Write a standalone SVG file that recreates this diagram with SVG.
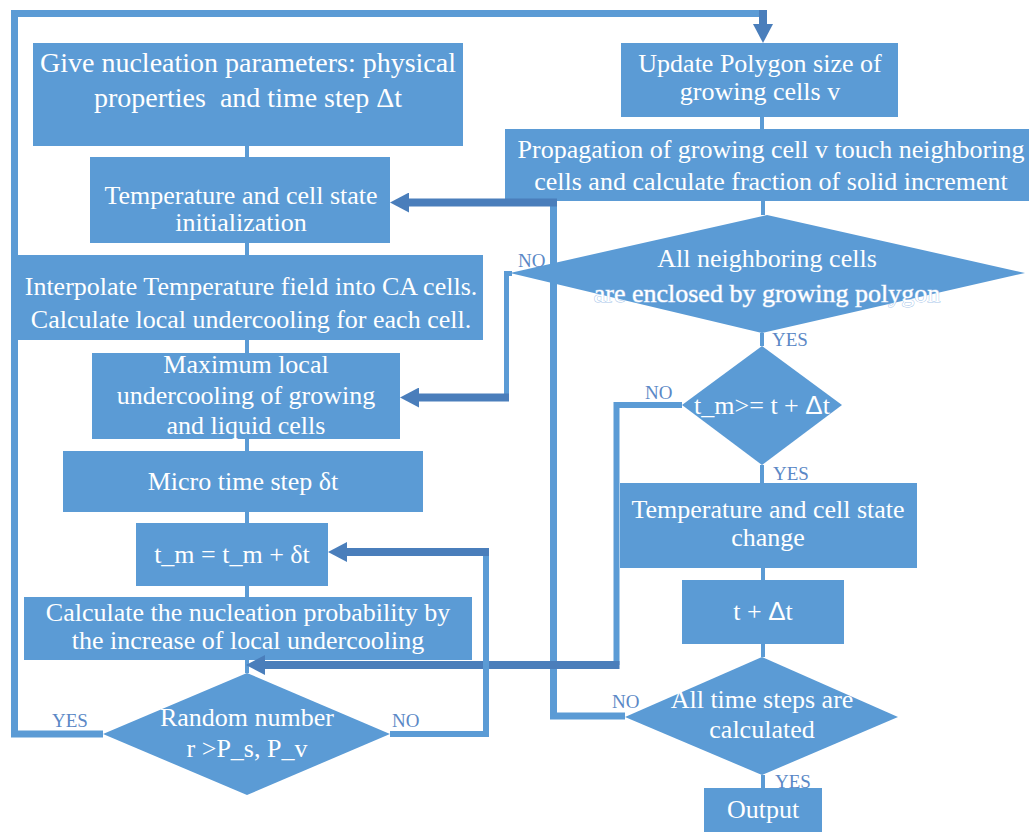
<svg xmlns="http://www.w3.org/2000/svg" width="1029" height="832" viewBox="0 0 1029 832">
<style>
.box{fill:#5b9bd5;}
.t{font-family:"Liberation Serif","Times New Roman",serif;font-size:26px;fill:#ffffff;text-anchor:middle;}
.halo{stroke:#a9c7ea;stroke-width:1px;paint-order:stroke;}
.lbl{font-family:"Liberation Serif","Times New Roman",serif;font-size:19px;fill:#5b88c6;}
.thin{fill:none;stroke:#5b9bd5;stroke-width:4;}
.loop{fill:none;stroke:#5b9bd5;stroke-width:7;stroke-linejoin:miter;}
.arr{fill:none;stroke:#4a7ebb;stroke-width:8;}
.sans{font-family:"Liberation Sans",Arial,sans-serif;}
</style>
<defs>
<marker id="ah" markerUnits="userSpaceOnUse" markerWidth="19" markerHeight="20" refX="0" refY="10" orient="auto" viewBox="0 0 19 20">
<path d="M0,0 L19,10 L0,20 z" fill="#4a7ebb"/>
</marker>
</defs>
<rect width="1029" height="832" fill="#ffffff"/>

<g id="n1"><rect class="box" x="33" y="43" width="430" height="103"/>
<text class="t" style="font-size:28px" x="248" y="72">Give nucleation parameters: physical</text>
<text class="t" style="font-size:28px" x="248" y="107">properties&#160; and time step Δt</text></g>

<g id="n2"><rect class="box" x="90" y="157" width="300" height="86"/>
<text class="t" x="241" y="204">Temperature and cell state</text>
<text class="t" x="241" y="231">initialization</text></g>

<g id="n3"><rect class="box" x="17" y="255" width="466" height="85"/>
<text class="t" x="251" y="295">Interpolate Temperature field into CA cells.</text>
<text class="t" x="251" y="328">Calculate local undercooling for each cell.</text></g>

<g id="n4"><rect class="box" x="92" y="353" width="308" height="86"/>
<text class="t" x="246" y="373">Maximum local</text>
<text class="t" x="246" y="404">undercooling of growing</text>
<text class="t" x="246" y="434">and liquid cells</text></g>

<g id="n5"><rect class="box" x="63" y="451" width="360" height="61"/>
<text class="t" x="243" y="490">Micro time step δt</text></g>

<g id="n6"><rect class="box" x="136" y="523" width="192" height="63"/>
<text class="t" x="232" y="563">t_m = t_m + δt</text></g>

<g id="n7"><rect class="box" x="24" y="597" width="448" height="63"/>
<text class="t" x="248" y="621">Calculate the nucleation probability by</text>
<text class="t" x="248" y="649">the increase of local undercooling</text></g>

<g id="n8"><polygon class="box" points="247,673 390,734 247,795 103,734"/>
<text class="t" x="247" y="726">Random number</text>
<text class="t" x="247" y="757">r &gt;P_s, P_v</text></g>

<g id="r1"><rect class="box" x="621" y="43" width="277" height="74"/>
<text class="t" x="760" y="72">Update Polygon size of</text>
<text class="t" x="760" y="100">growing cells v</text></g>

<g id="r2"><rect class="box" x="505" y="129" width="530" height="72"/>
<text class="t" x="771" y="158">Propagation of growing cell v touch neighboring</text>
<text class="t" x="771" y="190">cells and calculate fraction of solid increment</text></g>

<g id="r3"><polygon class="box" points="767,215 1025,273 762,333 510,273"/>
<text class="t" x="767" y="267">All neighboring cells</text>
<text class="t halo" x="767" y="302">are enclosed by growing polygon</text></g>

<g id="r4"><polygon class="box" points="762,346 842,405 762,465 682,405"/>
<text class="t" x="762" y="414">t_m&gt;= t + <tspan class="sans">Δ</tspan>t</text></g>

<g id="r5"><rect class="box" x="620" y="483" width="297" height="85"/>
<text class="t" x="768" y="518">Temperature and cell state</text>
<text class="t" x="768" y="546">change</text></g>

<g id="r6"><rect class="box" x="682" y="580" width="162" height="64"/>
<text class="t" x="763" y="620">t + <tspan class="sans">Δ</tspan>t</text></g>

<g id="r7"><polygon class="box" points="762,657 898,717 762,775 625,717"/>
<text class="t" x="762" y="708">All time steps are</text>
<text class="t" x="762" y="738">calculated</text></g>

<g id="r8"><rect class="box" x="704" y="788" width="118" height="50"/>
<text class="t" x="763" y="818">Output</text></g>

<g id="connectors">
<path class="thin" d="M247,146 V157 M247,243 V255 M247,340 V353 M247,439 V451 M247,512 V523 M247,586 V597 M247,660 V673"/>
<path class="thin" d="M762,117 V129 M763,201 V215 M762,333 V346 M762,465 V483 M763,568 V580 M763,644 V657 M763,775 V788"/>
<path class="loop" d="M103,734 H14.5 V13.5 H763"/>
<path class="arr" d="M763,10 V24" marker-end="url(#ah)"/>
<path class="loop" d="M625,716 H553.5 V202.5"/>
<path class="arr" d="M557,202.5 H409" marker-end="url(#ah)"/>
<path class="loop" style="stroke-width:5" d="M512,273.5 H506.5 V397.5"/>
<path class="arr" d="M509,397.5 H419" marker-end="url(#ah)"/>
<path class="loop" style="stroke-width:6" d="M682,405 H616.5 V665"/>
<path class="arr" d="M619.5,665 H265" marker-end="url(#ah)"/>
<path class="loop" style="stroke-width:6" d="M390,734 H486 V552"/>
<path class="arr" d="M489,552 H347" marker-end="url(#ah)"/>
</g>

<g id="labels">
<text class="lbl" x="518" y="267">NO</text>
<text class="lbl" x="772" y="346">YES</text>
<text class="lbl" x="645" y="399">NO</text>
<text class="lbl" x="773" y="480">YES</text>
<text class="lbl" x="612" y="708">NO</text>
<text class="lbl" x="775" y="788">YES</text>
<text class="lbl" x="52" y="727">YES</text>
<text class="lbl" x="392" y="727">NO</text>
</g>
</svg>
